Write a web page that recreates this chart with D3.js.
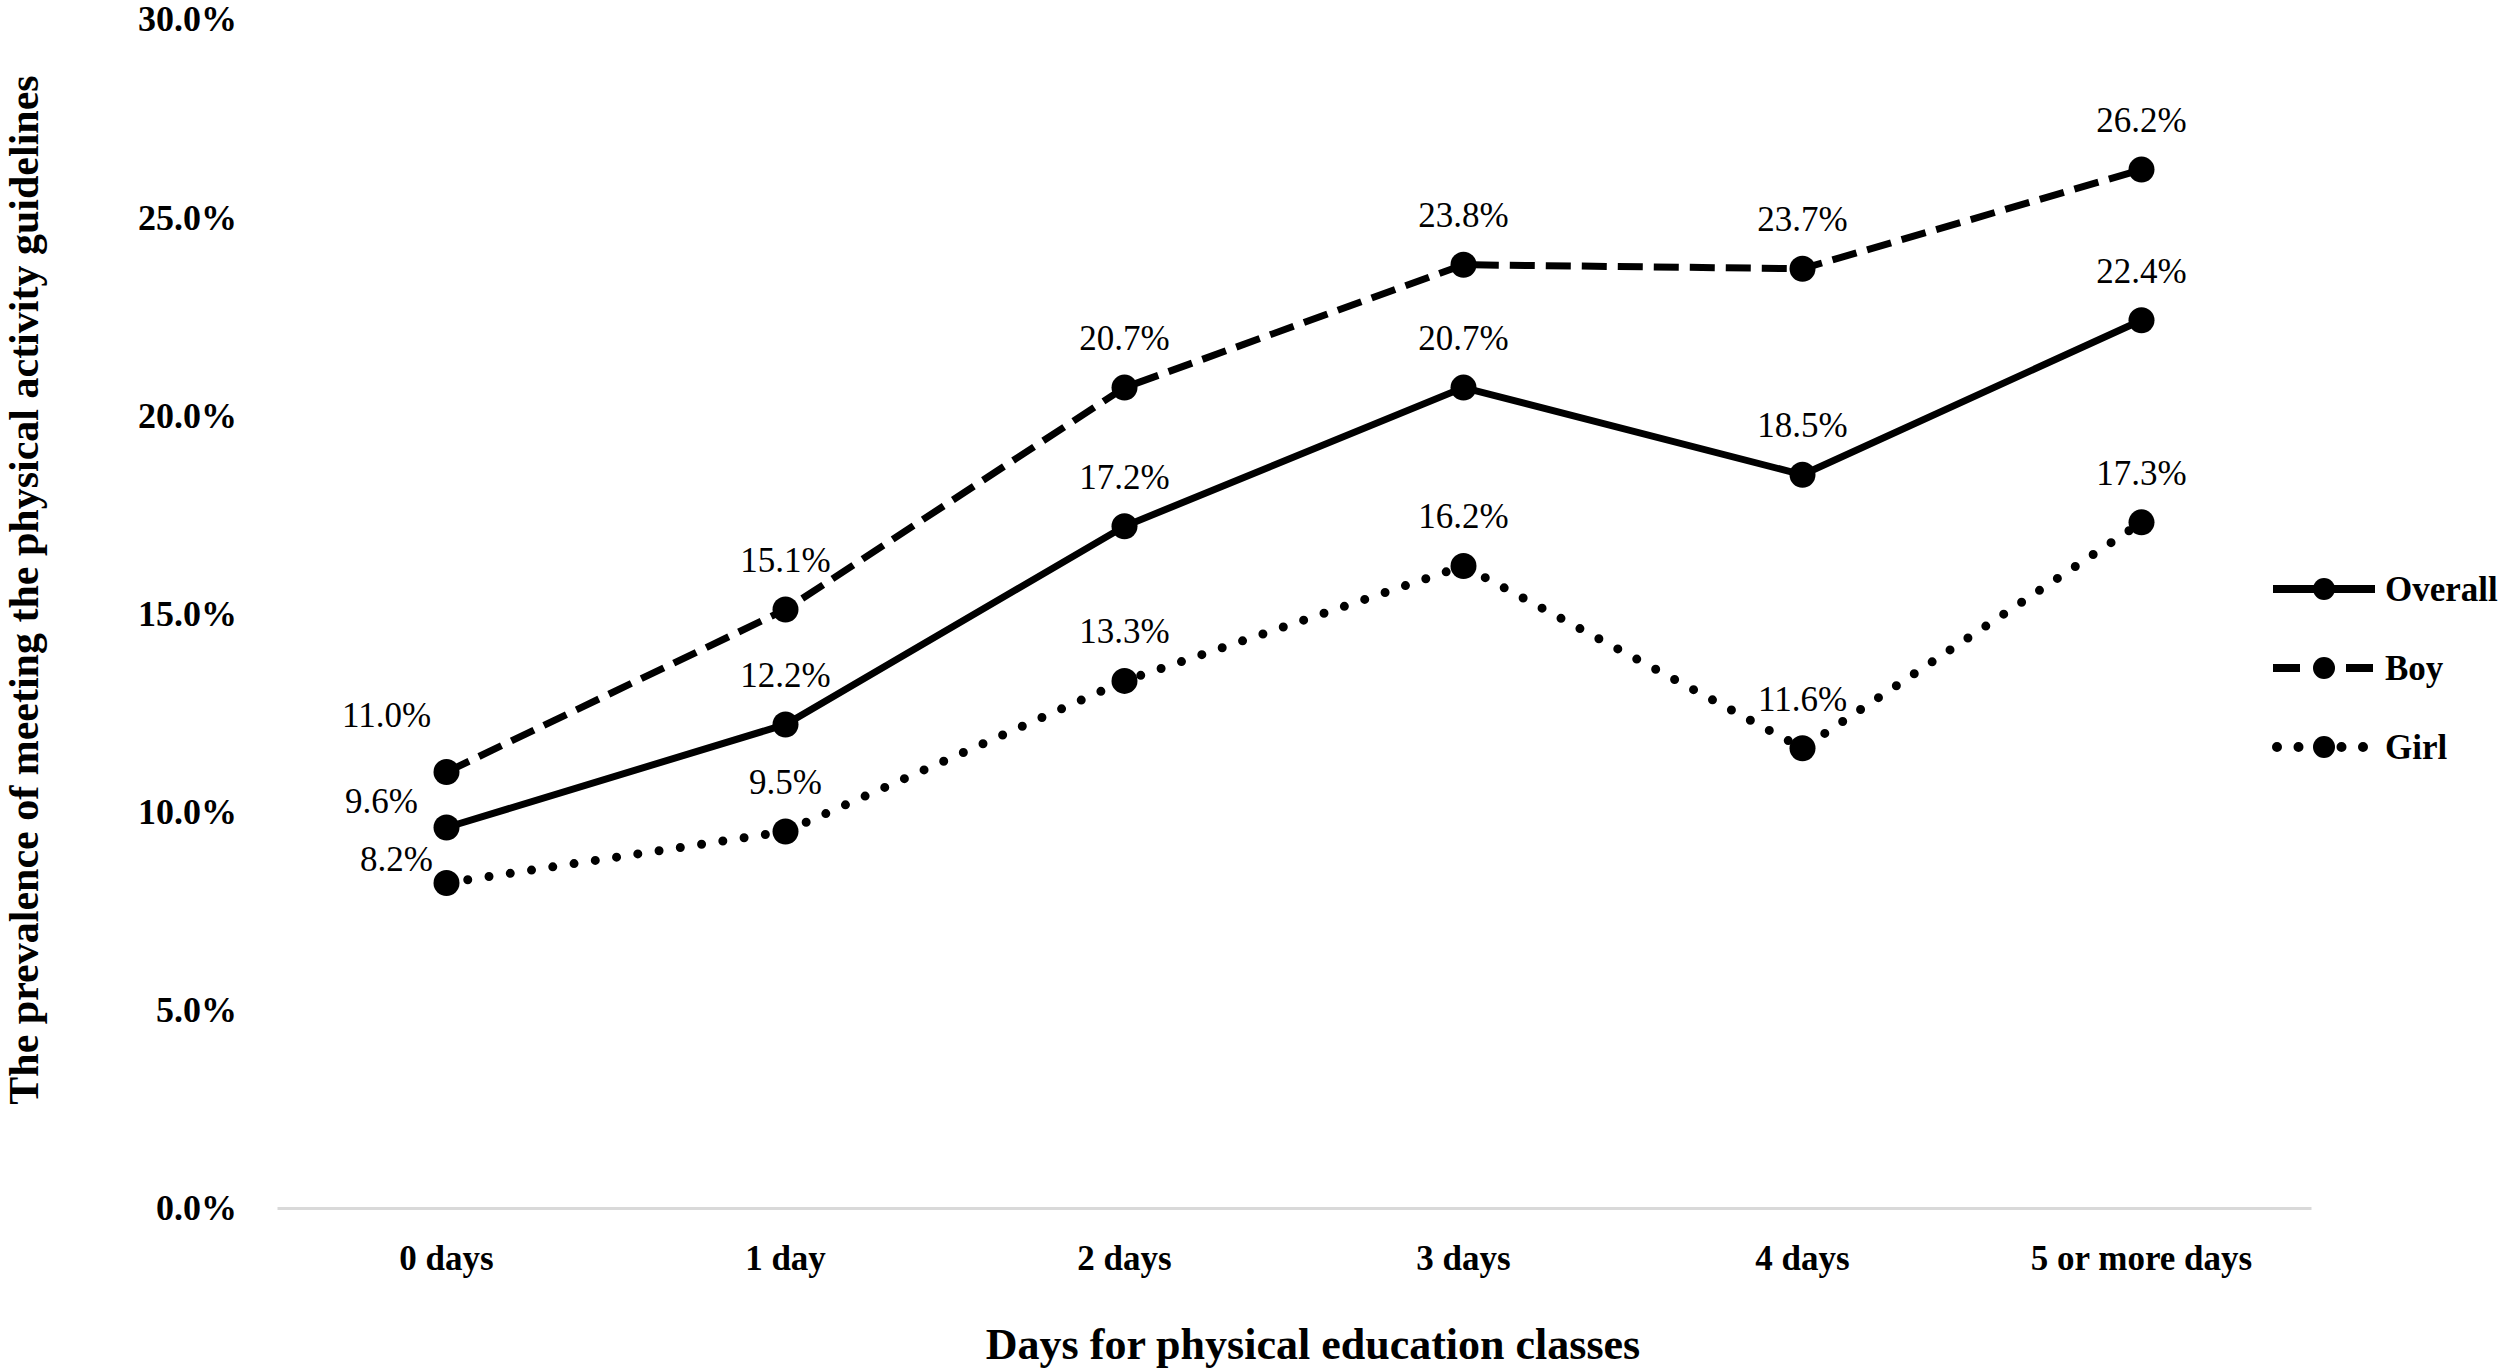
<!DOCTYPE html>
<html>
<head>
<meta charset="utf-8">
<script src="https://cdn.jsdelivr.net/npm/d3@7"></script>
<style>
  body { margin: 0; background: #fff; }
  text { font-family: "Liberation Serif", "DejaVu Serif", serif; fill: #000; }
</style>
</head>
<body>
<div id="chart"></div>
<script>
// Data
var categories = ["0 days", "1 day", "2 days", "3 days", "4 days", "5 or more days"];
var overall = [9.6, 12.2, 17.2, 20.7, 18.5, 22.4];
var boy     = [11.0, 15.1, 20.7, 23.8, 23.7, 26.2];
var girl    = [8.2, 9.5, 13.3, 16.2, 11.6, 17.3];
var seriesNames = ["Overall", "Boy", "Girl"];
var yTicks = [0, 5, 10, 15, 20, 25, 30];

var serif = "'Liberation Serif', 'DejaVu Serif', serif";
var svgWidth = 2500;
var svgHeight = 1368;

var svg = d3.select("#chart")
    .append("svg")
    .attr("width", svgWidth)
    .attr("height", svgHeight);

// scales
var xScale = d3.scaleBand()
    .domain(categories)
    .range([277, 2311])
    .padding(0);

var yScale = d3.scaleLinear()
    .domain([0, 30])
    .range([1208, 19]);

var cx = d => xScale(d) + xScale.bandwidth() / 2;

// line styles per series
var styles = {
    Overall: { width: 7, dash: null, cap: "butt" },
    Boy:     { width: 7, dash: "25,11", cap: "butt" },
    Girl:    { width: 9, dash: "0,21.5", cap: "round" }
};

var series = [
    { name: "Overall", values: overall },
    { name: "Boy", values: boy },
    { name: "Girl", values: girl }
];

// baseline (x axis, no ticks)
var xAxis = d3.axisBottom(xScale).tickSize(0).tickPadding(0);
var xAxisG = svg.append("g")
    .attr("transform", `translate(0, ${yScale(0)})`)
    .call(xAxis);
xAxisG.select(".domain")
    .attr("stroke", "#d9d9d9")
    .attr("stroke-width", 3);
xAxisG.selectAll(".tick text")
    .attr("y", 50)
    .attr("dy", "0.33em")
    .style("font-family", serif)
    .style("font-size", "35px")
    .style("font-weight", "bold");

// y axis: labels only
var yAxis = d3.axisLeft(yScale)
    .tickValues(yTicks)
    .tickSize(0)
    .tickPadding(0)
    .tickFormat(d => d3.format(".1f")(d) + "%");
var yAxisG = svg.append("g")
    .attr("transform", "translate(237, 0)")
    .call(yAxis);
yAxisG.select(".domain").remove();
yAxisG.selectAll(".tick text")
    .attr("dy", "0.33em")
    .style("font-family", serif)
    .style("font-size", "36px")
    .style("font-weight", "bold");

// lines
var line = d3.line()
    .x((d, i) => cx(categories[i]))
    .y(d => yScale(d));

series.forEach(function(s) {
    var st = styles[s.name];
    svg.append("path")
        .datum(s.values)
        .attr("d", line)
        .attr("fill", "none")
        .attr("stroke", "#000")
        .attr("stroke-width", st.width)
        .attr("stroke-linecap", st.cap)
        .attr("stroke-dasharray", st.dash);

    svg.selectAll(null)
        .data(s.values)
        .enter()
        .append("circle")
        .attr("cx", (d, i) => cx(categories[i]))
        .attr("cy", d => yScale(d))
        .attr("r", 13)
        .attr("fill", "#000");
});

// data labels; first category labels sit up-left of the points
var firstNudge = { Overall: [-65, -26], Boy: [-60, -57], Girl: [-50, -24] };
series.forEach(function(s) {
    svg.selectAll(null)
        .data(s.values)
        .enter()
        .append("text")
        .attr("x", (d, i) => cx(categories[i]) + (i === 0 ? firstNudge[s.name][0] : 0))
        .attr("y", (d, i) => yScale(d) + (i === 0 ? firstNudge[s.name][1] : -49))
        .attr("dy", "0.33em")
        .attr("text-anchor", "middle")
        .style("font-family", serif)
        .style("font-size", "35px")
        .text(d => d3.format(".1f")(d) + "%");
});

// legend
var legendY = d3.scalePoint()
    .domain(seriesNames)
    .range([589, 747]);

var legend = svg.append("g");
seriesNames.forEach(function(name) {
    var st = styles[name];
    var g = legend.append("g")
        .attr("transform", `translate(0, ${legendY(name)})`);
    g.append("line")
        .attr("x1", name === "Girl" ? 2277 : 2273)
        .attr("x2", 2375)
        .attr("stroke", "#000")
        .attr("stroke-width", name === "Overall" ? 8 : st.width + 1)
        .attr("stroke-linecap", st.cap)
        .attr("stroke-dasharray", name === "Boy" ? "27,46" : st.dash);
    g.append("circle")
        .attr("cx", 2324)
        .attr("r", 11)
        .attr("fill", "#000");
    g.append("text")
        .attr("x", 2385)
        .attr("dy", "0.33em")
        .style("font-family", serif)
        .style("font-size", "35px")
        .style("font-weight", "bold")
        .text(name);
});

// axis titles
svg.append("text")
    .attr("x", 1313)
    .attr("y", 1344)
    .attr("dy", "0.33em")
    .attr("text-anchor", "middle")
    .style("font-family", serif)
    .style("font-size", "44px")
    .style("font-weight", "bold")
    .text("Days for physical education classes");

svg.append("text")
    .attr("transform", "translate(24, 590) rotate(-90)")
    .attr("dy", "0.33em")
    .attr("text-anchor", "middle")
    .style("font-family", serif)
    .style("font-size", "42px")
    .style("font-weight", "bold")
    .text("The prevalence of meeting the physical activity guidelines");
</script>
</body>
</html>
